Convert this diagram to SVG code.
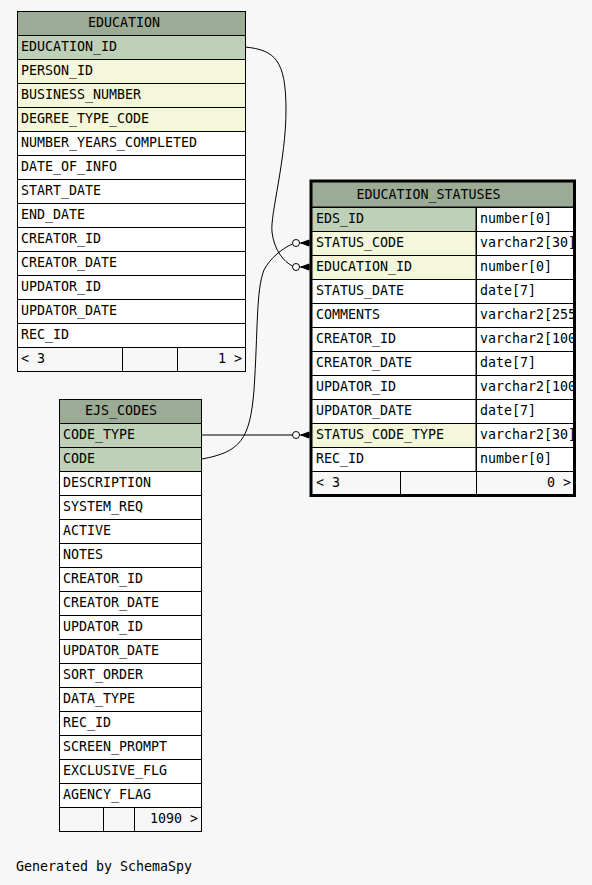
<svg xmlns="http://www.w3.org/2000/svg" width="592" height="885" viewBox="0 0 592 885">
<style>
text{font-family:"DejaVu Sans Mono","Liberation Mono",monospace;font-size:13.3px;fill:#000}
.hd{fill:#9bab96;stroke:#000;stroke-width:1}
.pk{fill:#bed1b8;stroke:#000;stroke-width:1}
.fk{fill:#f4f7da;stroke:#000;stroke-width:1}
.rw{fill:#ffffff;stroke:#000;stroke-width:1}
.ft{fill:#f7f7f7;stroke:#000;stroke-width:1}
.c{text-anchor:middle}
.r{text-anchor:end}
.ln{fill:none;stroke:#000;stroke-width:1}
.circ{fill:#fff;stroke:#000;stroke-width:1}
.crow{fill:#000;stroke:#000;stroke-width:1}
</style>
<defs>
<clipPath id="typeclip"><rect x="476" y="180" width="97.5" height="320"/></clipPath>
</defs>
<rect x="0" y="0" width="592" height="885" fill="#f7f7f7"/>

<g id="connectors">
<path class="ln" d="M245,47 C275,50 286,60 286,110 C286,160 270,215 272,232 C274,250 284,262 292.5,266"/>
<path class="ln" d="M202,459 C240,452 250,440 254,390 C258,330 256,290 264,270 C270,258 283,248 292.5,244"/>
<path class="ln" d="M202,435 L292.5,435"/>
<circle class="circ" cx="296" cy="243" r="3.5"/>
<path class="crow" d="M301,243 L309,240 L309,246 Z M299.5,243 L310,243"/>
<circle class="circ" cx="296" cy="267" r="3.5"/>
<path class="crow" d="M301,267 L309,264 L309,270 Z M299.5,267 L310,267"/>
<circle class="circ" cx="296" cy="435" r="3.5"/>
<path class="crow" d="M301,435 L309,432 L309,438 Z M299.5,435 L310,435"/>
</g>

<g id="EDUCATION">
<rect class="hd" x="17.5" y="11.5" width="228" height="24"/>
<text class="c" x="124" y="27">EDUCATION</text>
<rect class="pk" x="17.5" y="35.5" width="228" height="24"/><text x="21" y="51">EDUCATION_ID</text>
<rect class="fk" x="17.5" y="59.5" width="228" height="24"/><text x="21" y="75">PERSON_ID</text>
<rect class="fk" x="17.5" y="83.5" width="228" height="24"/><text x="21" y="99">BUSINESS_NUMBER</text>
<rect class="fk" x="17.5" y="107.5" width="228" height="24"/><text x="21" y="123">DEGREE_TYPE_CODE</text>
<rect class="rw" x="17.5" y="131.5" width="228" height="24"/><text x="21" y="147">NUMBER_YEARS_COMPLETED</text>
<rect class="rw" x="17.5" y="155.5" width="228" height="24"/><text x="21" y="171">DATE_OF_INFO</text>
<rect class="rw" x="17.5" y="179.5" width="228" height="24"/><text x="21" y="195">START_DATE</text>
<rect class="rw" x="17.5" y="203.5" width="228" height="24"/><text x="21" y="219">END_DATE</text>
<rect class="rw" x="17.5" y="227.5" width="228" height="24"/><text x="21" y="243">CREATOR_ID</text>
<rect class="rw" x="17.5" y="251.5" width="228" height="24"/><text x="21" y="267">CREATOR_DATE</text>
<rect class="rw" x="17.5" y="275.5" width="228" height="24"/><text x="21" y="291">UPDATOR_ID</text>
<rect class="rw" x="17.5" y="299.5" width="228" height="24"/><text x="21" y="315">UPDATOR_DATE</text>
<rect class="rw" x="17.5" y="323.5" width="228" height="24"/><text x="21" y="339">REC_ID</text>
<rect class="ft" x="17.5" y="347.5" width="228" height="24"/>
<line class="ln" x1="122.5" y1="347.5" x2="122.5" y2="371.5"/>
<line class="ln" x1="177.5" y1="347.5" x2="177.5" y2="371.5"/>
<text x="21" y="363">&lt; 3</text>
<text class="r" x="242" y="363">1 &gt;</text>
</g>

<g id="EDUCATION_STATUSES">
<rect class="hd" x="311" y="181.5" width="263.5" height="25.5"/>
<text class="c" x="428.5" y="199">EDUCATION_STATUSES</text>
<rect class="pk" x="311" y="207.5" width="165" height="24"/><rect class="rw" x="476.5" y="207.5" width="98" height="24"/>
<text x="316" y="223">EDS_ID</text>
<rect class="fk" x="311" y="231.5" width="165" height="24"/><rect class="rw" x="476.5" y="231.5" width="98" height="24"/>
<text x="316" y="247">STATUS_CODE</text>
<rect class="fk" x="311" y="255.5" width="165" height="24"/><rect class="rw" x="476.5" y="255.5" width="98" height="24"/>
<text x="316" y="271">EDUCATION_ID</text>
<rect class="rw" x="311" y="279.5" width="165" height="24"/><rect class="rw" x="476.5" y="279.5" width="98" height="24"/>
<text x="316" y="295">STATUS_DATE</text>
<rect class="rw" x="311" y="303.5" width="165" height="24"/><rect class="rw" x="476.5" y="303.5" width="98" height="24"/>
<text x="316" y="319">COMMENTS</text>
<rect class="rw" x="311" y="327.5" width="165" height="24"/><rect class="rw" x="476.5" y="327.5" width="98" height="24"/>
<text x="316" y="343">CREATOR_ID</text>
<rect class="rw" x="311" y="351.5" width="165" height="24"/><rect class="rw" x="476.5" y="351.5" width="98" height="24"/>
<text x="316" y="367">CREATOR_DATE</text>
<rect class="rw" x="311" y="375.5" width="165" height="24"/><rect class="rw" x="476.5" y="375.5" width="98" height="24"/>
<text x="316" y="391">UPDATOR_ID</text>
<rect class="rw" x="311" y="399.5" width="165" height="24"/><rect class="rw" x="476.5" y="399.5" width="98" height="24"/>
<text x="316" y="415">UPDATOR_DATE</text>
<rect class="fk" x="311" y="423.5" width="165" height="24"/><rect class="rw" x="476.5" y="423.5" width="98" height="24"/>
<text x="316" y="439">STATUS_CODE_TYPE</text>
<rect class="rw" x="311" y="447.5" width="165" height="24"/><rect class="rw" x="476.5" y="447.5" width="98" height="24"/>
<text x="316" y="463">REC_ID</text>
<g clip-path="url(#typeclip)">
<text x="480" y="223">number[0]</text>
<text x="480" y="247">varchar2[30]</text>
<text x="480" y="271">number[0]</text>
<text x="480" y="295">date[7]</text>
<text x="480" y="319">varchar2[255]</text>
<text x="480" y="343">varchar2[100]</text>
<text x="480" y="367">date[7]</text>
<text x="480" y="391">varchar2[100]</text>
<text x="480" y="415">date[7]</text>
<text x="480" y="439">varchar2[30]</text>
<text x="480" y="463">number[0]</text>
</g>
<rect class="ft" x="311" y="471.5" width="263.5" height="24"/>
<line class="ln" x1="400.5" y1="471.5" x2="400.5" y2="495"/>
<line class="ln" x1="476.5" y1="471.5" x2="476.5" y2="495"/>
<text x="316" y="487">&lt; 3</text>
<text class="r" x="571" y="487">0 &gt;</text>
<rect x="311" y="181" width="263.5" height="314.5" fill="none" stroke="#000" stroke-width="3"/>
</g>

<g id="EJS_CODES">
<rect class="hd" x="59.5" y="399.5" width="142" height="24"/>
<text class="c" x="121" y="415">EJS_CODES</text>
<rect class="pk" x="59.5" y="423.5" width="142" height="24"/><text x="63" y="439">CODE_TYPE</text>
<rect class="pk" x="59.5" y="447.5" width="142" height="24"/><text x="63" y="463">CODE</text>
<rect class="rw" x="59.5" y="471.5" width="142" height="24"/><text x="63" y="487">DESCRIPTION</text>
<rect class="rw" x="59.5" y="495.5" width="142" height="24"/><text x="63" y="511">SYSTEM_REQ</text>
<rect class="rw" x="59.5" y="519.5" width="142" height="24"/><text x="63" y="535">ACTIVE</text>
<rect class="rw" x="59.5" y="543.5" width="142" height="24"/><text x="63" y="559">NOTES</text>
<rect class="rw" x="59.5" y="567.5" width="142" height="24"/><text x="63" y="583">CREATOR_ID</text>
<rect class="rw" x="59.5" y="591.5" width="142" height="24"/><text x="63" y="607">CREATOR_DATE</text>
<rect class="rw" x="59.5" y="615.5" width="142" height="24"/><text x="63" y="631">UPDATOR_ID</text>
<rect class="rw" x="59.5" y="639.5" width="142" height="24"/><text x="63" y="655">UPDATOR_DATE</text>
<rect class="rw" x="59.5" y="663.5" width="142" height="24"/><text x="63" y="679">SORT_ORDER</text>
<rect class="rw" x="59.5" y="687.5" width="142" height="24"/><text x="63" y="703">DATA_TYPE</text>
<rect class="rw" x="59.5" y="711.5" width="142" height="24"/><text x="63" y="727">REC_ID</text>
<rect class="rw" x="59.5" y="735.5" width="142" height="24"/><text x="63" y="751">SCREEN_PROMPT</text>
<rect class="rw" x="59.5" y="759.5" width="142" height="24"/><text x="63" y="775">EXCLUSIVE_FLG</text>
<rect class="rw" x="59.5" y="783.5" width="142" height="24"/><text x="63" y="799">AGENCY_FLAG</text>
<rect class="ft" x="59.5" y="807.5" width="142" height="24"/>
<line class="ln" x1="103.5" y1="807.5" x2="103.5" y2="831.5"/>
<line class="ln" x1="134.5" y1="807.5" x2="134.5" y2="831.5"/>
<text class="r" x="198" y="823">1090 &gt;</text>
</g>

<text x="16" y="871">Generated by SchemaSpy</text>
</svg>
